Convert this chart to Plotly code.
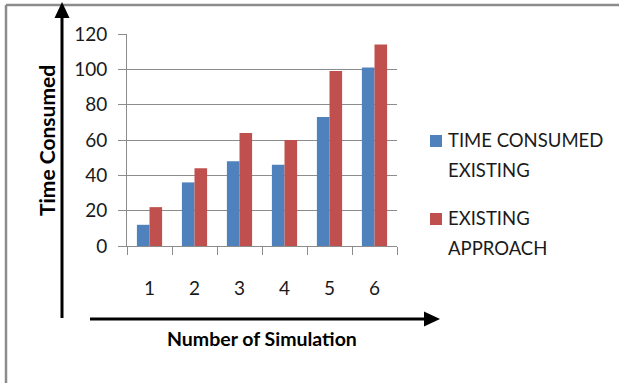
import plotly.graph_objects as go

# Data
simulations = ["1", "2", "3", "4", "5", "6"]
series_names = ["TIME CONSUMED EXISTING", "EXISTING APPROACH"]
legend_lines = [["TIME CONSUMED", "EXISTING"], ["EXISTING", "APPROACH"]]
time_consumed_existing = [12, 36, 48, 46, 73, 101]
existing_approach = [22, 44, 64, 60, 99, 114]
y_ticks = [0, 20, 40, 60, 80, 100, 120]
colors = ["#4F81BD", "#C0504D"]

W, H = 619, 383
FONT = "Lato"
GRID = "#8C8C8C"


def px(x):
    return x / W


def py(y):
    return 1 - y / H


fig = go.Figure()
for name, vals, col in zip(series_names, [time_consumed_existing, existing_approach], colors):
    fig.add_trace(go.Bar(x=simulations, y=vals, name=name, marker_color=col,
                         marker_line_width=0, showlegend=False))

shapes = []
annotations = []

# Outer frame (top and left edges)
shapes.append(dict(type="line", xref="paper", yref="paper", x0=px(6), x1=1,
                   y0=py(5), y1=py(5), line=dict(color="#8C8C8C", width=2.5)))
shapes.append(dict(type="line", xref="paper", yref="paper", x0=px(6), x1=px(6),
                   y0=py(5), y1=0, line=dict(color="#8C8C8C", width=2.5)))

# Vertical arrow
shapes.append(dict(type="line", xref="paper", yref="paper", x0=px(62), x1=px(62),
                   y0=py(318), y1=py(16), line=dict(color="black", width=3)))
shapes.append(dict(type="path", xref="paper", yref="paper",
                   path=f"M {px(54.5)} {py(18)} L {px(62)} {py(2)} L {px(69.5)} {py(18)} Z",
                   fillcolor="black", line=dict(color="black", width=0)))

# Horizontal arrow
shapes.append(dict(type="line", xref="paper", yref="paper", x0=px(90), x1=px(426),
                   y0=py(319), y1=py(319), line=dict(color="black", width=3)))
shapes.append(dict(type="path", xref="paper", yref="paper",
                   path=f"M {px(424)} {py(311.5)} L {px(440)} {py(319)} L {px(424)} {py(326.5)} Z",
                   fillcolor="black", line=dict(color="black", width=0)))

# Legend
legend_y = [141, 219]
for lines, col, yc in zip(legend_lines, colors, legend_y):
    shapes.append(dict(type="rect", xref="paper", yref="paper",
                       x0=px(430), x1=px(442), y0=py(yc - 6), y1=py(yc + 6),
                       fillcolor=col, line=dict(width=0)))
    for i, t in enumerate(lines):
        annotations.append(dict(text=t, xref="paper", yref="paper", x=px(446),
                                y=py(yc - 1 + i * 30), xanchor="left", yanchor="middle",
                                showarrow=False, font=dict(family=FONT, size=18.5, color="#1a1a1a")))

# Axis titles
annotations.append(dict(text="<b>Number of Simulation</b>", xref="paper", yref="paper",
                        x=px(262), y=py(338), xanchor="center", yanchor="middle",
                        showarrow=False, font=dict(family=FONT, size=19.5, color="black")))
annotations.append(dict(text="<b>Time Consumed</b>", xref="paper", yref="paper",
                        x=px(47), y=py(141), xanchor="center", yanchor="middle",
                        textangle=-90, showarrow=False,
                        font=dict(family=FONT, size=21, color="black")))

fig.update_layout(
    width=W, height=H, autosize=False,
    margin=dict(l=0, r=0, t=0, b=0, pad=0, autoexpand=False),
    paper_bgcolor="white", plot_bgcolor="white",
    barmode="group", bargap=0.44, bargroupgap=0,
    shapes=shapes, annotations=annotations,
    font=dict(family=FONT, size=19, color="#1a1a1a"),
    xaxis=dict(domain=[px(127), px(397)], type="category", tickson="boundaries",
               ticks="outside", ticklen=8, tickcolor=GRID, showline=True, linecolor=GRID,
               linewidth=1, showgrid=False, ticklabelstandoff=25, automargin=False,
               tickfont=dict(family=FONT, size=19, color="#1a1a1a")),
    yaxis=dict(domain=[py(246), py(34)], range=[0, 120], tickvals=y_ticks,
               ticks="outside", ticklen=8, tickcolor=GRID, showline=True, linecolor=GRID,
               linewidth=1, showgrid=True, gridcolor=GRID, gridwidth=1, zeroline=False,
               automargin=False,
               ticklabelstandoff=7, tickfont=dict(family=FONT, size=19, color="#1a1a1a")),
)

fig.write_html("out.html")
